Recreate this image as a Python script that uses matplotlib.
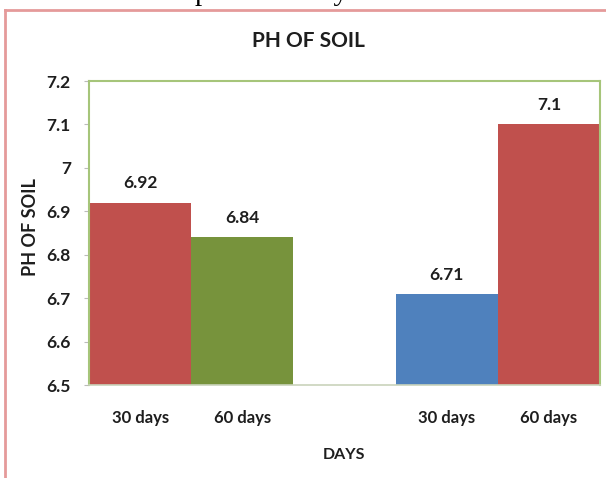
import matplotlib
matplotlib.use("Agg")
import matplotlib.pyplot as plt
from matplotlib.lines import Line2D
from matplotlib.ticker import FuncFormatter

# Soil pH at 30 and 60 days for the two treatment groups
categories = ["30 days", "60 days", "", "30 days", "60 days"]
values = [6.92, 6.84, None, 6.71, 7.1]
bar_colors = ["#C0504D", "#77933C", None, "#4F81BD", "#C0504D"]
y_ticks = [6.5, 6.6, 6.7, 6.8, 6.9, 7.0, 7.1, 7.2]

W, H = 606, 478
fig = plt.figure(figsize=(W / 100, H / 100), dpi=100)
fig.patch.set_facecolor("white")

font = ["Lato", "DejaVu Sans"]
ink = "#1e1e1e"

# axes placed in pixel terms
left, right, top, bottom = 89, 600, 81, 385
ax = fig.add_axes([left / W, 1 - bottom / H, (right - left) / W, (bottom - top) / H])

for i, (v, c) in enumerate(zip(values, bar_colors)):
    if v is None:
        continue
    ax.bar(i, v, width=1.0, color=c, zorder=2)
    ax.text(i, v + 0.026, f"{v:g}", ha="center", va="bottom",
            fontsize=12.5, fontweight="bold", family=font, color=ink)

ax.set_xlim(-0.5, len(categories) - 0.5)
ax.set_ylim(y_ticks[0], y_ticks[-1])
ax.set_yticks(y_ticks)
ax.yaxis.set_major_formatter(FuncFormatter(lambda v, p: f"{v:g}"))
ax.set_xticks(range(len(categories)))
ax.set_xticklabels(categories)

for lab in ax.get_yticklabels():
    lab.set_fontweight("bold")
    lab.set_family(font)
    lab.set_fontsize(12.5)
    lab.set_color(ink)
for lab in ax.get_xticklabels():
    lab.set_fontweight("bold")
    lab.set_family(font)
    lab.set_fontsize(12)
    lab.set_color(ink)

ax.tick_params(axis="y", length=3.6, width=0.8, color="#BBBBBB", pad=9.5)
ax.tick_params(axis="x", length=0, pad=18)

for side in ("left", "top", "right"):
    ax.spines[side].set_color("#A6C57A")
    ax.spines[side].set_linewidth(1.5)
ax.spines["bottom"].set_color("#C9D3BB")
ax.spines["bottom"].set_linewidth(1.2)

ax.set_xlabel("DAYS", fontsize=11.5, fontweight="bold", family=font, color=ink, labelpad=16)
ax.set_ylabel("PH OF SOIL", fontsize=13, fontweight="bold", family=font, color=ink)
ax.yaxis.set_label_coords(-0.098, 0.52)

fig.text(308 / W, 1 - 41 / H, "PH OF SOIL", ha="center", va="center",
         fontsize=15, fontweight="bold", family=font, color=ink)

# page border of the frame
fig.add_artist(Line2D([5 / W, 5 / W], [0, 1 - 10 / H], color="#E59A9A", lw=2))
fig.add_artist(Line2D([5 / W, 1], [1 - 10 / H, 1 - 10 / H], color="#E59A9A", lw=2))

# caption line of the surrounding page, above the frame
fig.text(195 / W, 1.0, "pH of soil by", ha="left", va="baseline",
         fontsize=21, family=["Liberation Serif", "DejaVu Serif"], color="black")

fig.savefig("out.png", dpi=100)
